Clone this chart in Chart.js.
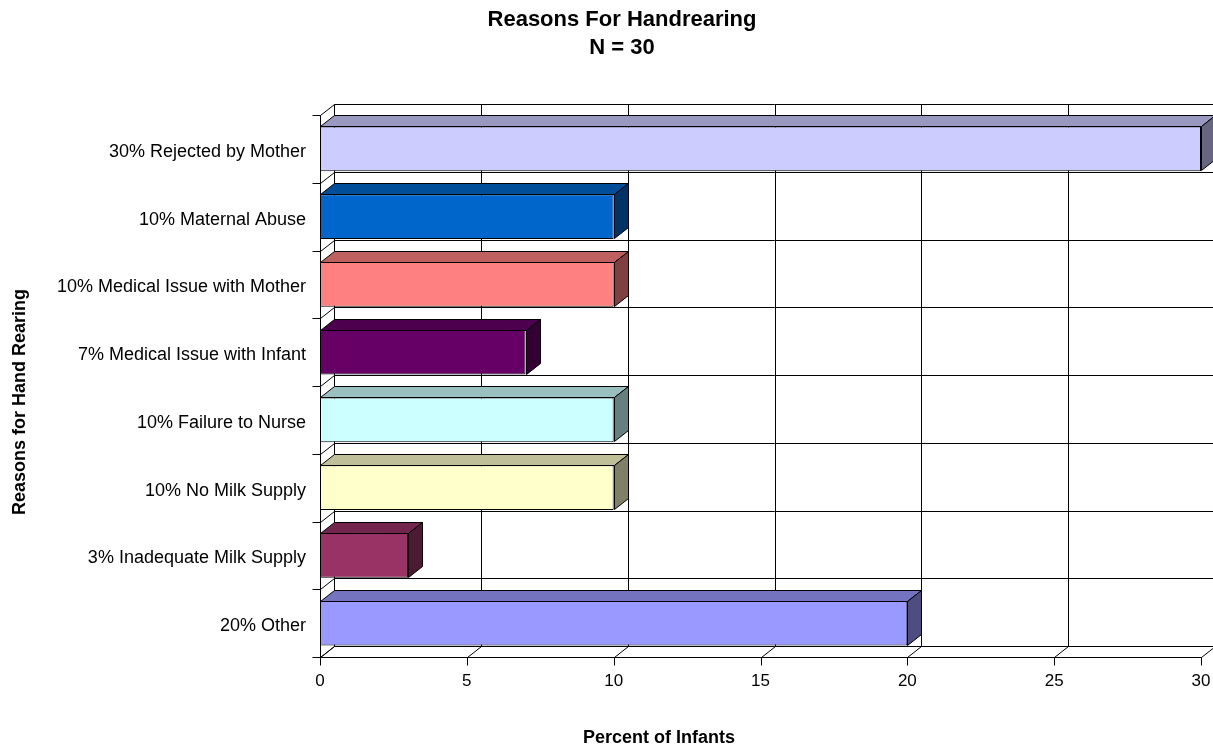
<!DOCTYPE html>
<html>
<head>
<meta charset="utf-8">
<script src="https://cdn.jsdelivr.net/npm/chart.js@4.4.1/dist/chart.umd.min.js"></script>
<style>
  body { margin: 0; background: #fff; }
  #wrap { width: 1213px; height: 746px; }
</style>
</head>
<body>
<div id="wrap"><canvas id="reasons-chart"></canvas></div>
<script>
const categories = [
    '30% Rejected by Mother',
    '10% Maternal Abuse',
    '10% Medical Issue with Mother',
    '7% Medical Issue with Infant',
    '10% Failure to Nurse',
    '10% No Milk Supply',
    '3% Inadequate Milk Supply',
    '20% Other'
];
const percentValues = [30, 10, 10, 7, 10, 10, 3, 20];
const xTicks = [0, 5, 10, 15, 20, 25, 30];
const xAxisTitle = 'Percent of Infants';
const yAxisTitle = 'Reasons for Hand Rearing';

const barColors = ['#CCCCFF', '#0066CC', '#FF8080', '#660066', '#CCFFFF', '#FFFFCC', '#993366', '#9999FF'];

// depth of the fake 3d box
const DX = 14;
const DY = -11;
const FONT = '"Liberation Sans", Arial, sans-serif';

function shade(hex, f) {
    const n = parseInt(hex.slice(1), 16);
    const r = Math.round(((n >> 16) & 255) * f);
    const g = Math.round(((n >> 8) & 255) * f);
    const b = Math.round((n & 255) * f);
    return 'rgb(' + r + ',' + g + ',' + b + ')';
}

function line(ctx, x1, y1, x2, y2) {
    ctx.beginPath();
    ctx.moveTo(Math.round(x1) + 0.5, Math.round(y1) + 0.5);
    ctx.lineTo(Math.round(x2) + 0.5, Math.round(y2) + 0.5);
    ctx.stroke();
}

function boundaries(chart) {
    const y = chart.scales.y;
    const out = [];
    const n = categories.length;
    const band = (chart.chartArea.bottom - chart.chartArea.top) / n;
    for (let i = 0; i < n; i++) out.push(y.getPixelForValue(i) - band / 2);
    out.push(y.getPixelForValue(n - 1) + band / 2);
    return out;
}

const walls3d = {
    id: 'walls3d',
    beforeDatasetsDraw(chart) {
        const ctx = chart.ctx;
        const { left, right, top, bottom } = chart.chartArea;
        const x = chart.scales.x;
        const ys = boundaries(chart);
        ctx.save();
        ctx.strokeStyle = '#000';
        ctx.lineWidth = 1;
        // back wall, vertical grid
        xTicks.forEach(v => {
            const px = x.getPixelForValue(v);
            line(ctx, px + DX, top + DY, px + DX, bottom + DY);
            // floor diagonal
            line(ctx, px, bottom, px + DX, bottom + DY);
            // tick mark
            line(ctx, px, bottom, px, bottom + 8);
        });
        // back wall, horizontal grid + left wall diagonals
        ys.forEach(py => {
            line(ctx, left + DX, py + DY, right + DX + 20, py + DY);
            line(ctx, left, py, left + DX, py + DY);
            line(ctx, left - 8, py, left, py);
        });
        // front edges
        line(ctx, left, top, left, bottom);
        line(ctx, left, bottom, right, bottom);
        ctx.restore();
    },
    afterDatasetsDraw(chart) {
        const ctx = chart.ctx;
        const meta = chart.getDatasetMeta(0);
        ctx.save();
        ctx.strokeStyle = '#000';
        ctx.lineWidth = 1;
        meta.data.forEach((bar, i) => {
            const p = bar.getProps(['x', 'y', 'base', 'height'], true);
            const x0 = Math.round(p.base) + 0.5;
            const x1 = Math.round(p.x) + 0.5;
            const t = Math.round(p.y - p.height / 2) + 0.5;
            const b = Math.round(p.y + p.height / 2) - 0.5;
            // top face
            ctx.fillStyle = shade(barColors[i], 0.75);
            ctx.beginPath();
            ctx.moveTo(x0, t);
            ctx.lineTo(x0 + DX, t + DY);
            ctx.lineTo(x1 + DX, t + DY);
            ctx.lineTo(x1, t);
            ctx.closePath();
            ctx.fill();
            ctx.stroke();
            // right face
            ctx.fillStyle = shade(barColors[i], 0.5);
            ctx.beginPath();
            ctx.moveTo(x1, t);
            ctx.lineTo(x1 + DX, t + DY);
            ctx.lineTo(x1 + DX, b + DY);
            ctx.lineTo(x1, b);
            ctx.closePath();
            ctx.fill();
            ctx.stroke();
        });
        ctx.restore();
    },
    afterDraw(chart) {
        // axis titles sit off-centre in the original, so they are placed by hand
        const ctx = chart.ctx;
        ctx.save();
        ctx.fillStyle = '#000';
        ctx.font = 'bold 18px ' + FONT;
        ctx.textAlign = 'center';
        ctx.textBaseline = 'middle';
        ctx.fillText(xAxisTitle, 659, 738);
        ctx.translate(20, 402);
        ctx.rotate(-Math.PI / 2);
        ctx.fillText(yAxisTitle, 0, 0);
        ctx.restore();
    }
};

Chart.defaults.font.family = FONT;
Chart.defaults.color = '#000';

new Chart(document.getElementById('reasons-chart'), {
    type: 'bar',
    data: {
        labels: categories,
        datasets: [{
            label: xAxisTitle,
            data: percentValues,
            backgroundColor: barColors,
            borderColor: '#000',
            borderWidth: 1,
            borderSkipped: false,
            barPercentage: 0.664,
            categoryPercentage: 1
        }]
    },
    options: {
        indexAxis: 'y',
        responsive: true,
        maintainAspectRatio: false,
        animation: false,
        layout: { padding: { left: 43, right: 12, top: 0, bottom: 0 } },
        plugins: {
            legend: { display: false },
            tooltip: { enabled: false },
            title: {
                display: true,
                text: ['Reasons For Handrearing', 'N = 30'],
                color: '#000',
                font: { size: 22, weight: 'bold', lineHeight: 28 / 22 },
                padding: { top: 6, bottom: 53 }
            }
        },
        scales: {
            x: {
                min: 0,
                max: 30,
                border: { display: false },
                grid: { display: false, drawTicks: false },
                ticks: { stepSize: 5, padding: 14, font: { size: 17 } },
                afterFit(scale) {
                    scale.height = 89;
                    scale.paddingRight = 0;
                    scale.paddingLeft = 0;
                }
            },
            y: {
                offset: true,
                border: { display: false },
                grid: { display: false, drawTicks: false },
                ticks: { padding: 14, labelOffset: 3, font: { size: 18 } },
                afterFit(scale) { scale.width = 277; }
            }
        }
    },
    plugins: [walls3d]
});
</script>
</body>
</html>
